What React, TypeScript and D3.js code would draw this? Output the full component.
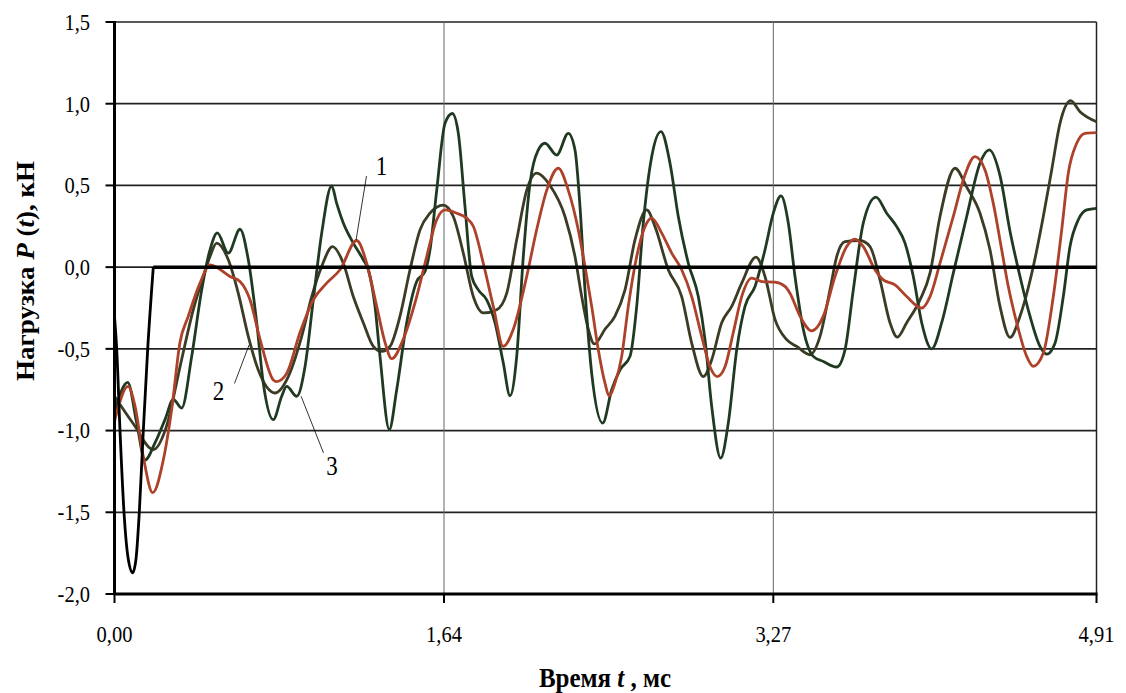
import React from "react";
import * as d3 from "d3";

// chart frame
const W = 1126;
const H = 693;
const plot = { left: 114.5, right: 1096.5, top: 22, bottom: 594 };

// time axis (ms) and load axis (kN)
const xDomain = [0, 4.91];
const yDomain = [-2, 1.5];
const xTickPos = [0, 1.6475, 3.294, 4.91];
const xTickLabels = ["0,00", "1,64", "3,27", "4,91"];
const yTicks = [-2, -1.5, -1, -0.5, 0, 0.5, 1, 1.5];

// applied load pulse (black)
const pulse = [
  [0, -0.3], [0.011, -0.5], [0.0275, -1.0], [0.0475, -1.5], [0.068, -1.78],
  [0.091, -1.87], [0.108, -1.78], [0.124, -1.5], [0.144, -1.0], [0.166, -0.5],
  [0.194, 0],
];
const pulseTail = [[0.194, 0], [4.91, 0]];

// curve 1 (red)
const curve1 = [
  [0, -0.944], [0.0675, -0.73], [0.1025, -0.85], [0.144, -1.16], [0.191, -1.38],
  [0.244, -1.18], [0.286, -0.87], [0.3275, -0.46], [0.369, -0.3], [0.4275, -0.098],
  [0.4775, 0.014], [0.5775, -0.057], [0.6275, -0.088], [0.6775, -0.2], [0.7275, -0.44],
  [0.794, -0.69], [0.811, -0.7], [0.861, -0.65], [0.9275, -0.4], [0.994, -0.2],
  [1.061, -0.098], [1.1275, -0.016], [1.211, 0.163], [1.261, 0.024], [1.311, -0.24],
  [1.3525, -0.46], [1.386, -0.56], [1.444, -0.44], [1.511, -0.18], [1.561, 0.065],
  [1.611, 0.29], [1.6525, 0.35], [1.711, 0.33], [1.761, 0.3], [1.794, 0.25],
  [1.844, 0.024], [1.894, -0.24], [1.944, -0.485], [1.994, -0.38], [2.061, -0.057],
  [2.111, 0.23], [2.161, 0.47], [2.219, 0.605], [2.269, 0.47], [2.319, 0.228],
  [2.3525, 0.004], [2.386, -0.24], [2.419, -0.505], [2.4525, -0.71], [2.4725, -0.787],
  [2.5025, -0.71], [2.536, -0.546], [2.569, -0.24], [2.611, 0.065], [2.6525, 0.248],
  [2.686, 0.3], [2.736, 0.208], [2.786, 0.086], [2.836, -0.016], [2.886, -0.18],
  [2.936, -0.424], [2.9775, -0.61], [3.014, -0.67], [3.0525, -0.61], [3.094, -0.4],
  [3.136, -0.18], [3.186, -0.067], [3.236, -0.088], [3.3025, -0.092], [3.3525, -0.118],
  [3.3775, -0.16], [3.4275, -0.3], [3.486, -0.39], [3.544, -0.3], [3.6025, -0.057],
  [3.661, 0.126], [3.7025, 0.171], [3.744, 0.126], [3.8025, -0.016], [3.844, -0.078],
  [3.9025, -0.108], [3.961, -0.18], [4.036, -0.25], [4.0775, -0.18], [4.1275, 0.024],
  [4.194, 0.31], [4.244, 0.534], [4.3025, 0.676], [4.3525, 0.595], [4.394, 0.39],
  [4.436, 0.106], [4.466, -0.1], [4.511, -0.34], [4.561, -0.546], [4.594, -0.607],
  [4.644, -0.526], [4.694, -0.18], [4.736, 0.228], [4.769, 0.575], [4.811, 0.758],
  [4.8525, 0.819], [4.91, 0.823],
];

// curve 2 (dark olive)
const curve2 = [
  [0, -0.79], [0.095, -0.96], [0.194, -1.117], [0.261, -0.97], [0.3275, -0.61],
  [0.394, -0.26], [0.444, -0.057], [0.4775, 0.065], [0.511, 0.147], [0.569, 0.045],
  [0.619, -0.16], [0.669, -0.424], [0.719, -0.63], [0.8025, -0.77], [0.869, -0.67],
  [0.936, -0.424], [0.986, -0.18], [1.036, 0.004], [1.09, 0.126], [1.144, 0.024],
  [1.194, -0.18], [1.244, -0.34], [1.294, -0.485], [1.336, -0.516], [1.3775, -0.485],
  [1.4275, -0.3], [1.4775, -0.016], [1.5275, 0.228], [1.5775, 0.33], [1.644, 0.38],
  [1.694, 0.31], [1.744, 0.086], [1.794, -0.18], [1.844, -0.28], [1.911, -0.26],
  [1.961, -0.16], [2.011, 0.167], [2.061, 0.47], [2.111, 0.575], [2.1775, 0.5],
  [2.2525, 0.31], [2.3025, 0.065], [2.336, -0.18], [2.369, -0.38], [2.399, -0.47],
  [2.4525, -0.38], [2.5025, -0.3], [2.5525, -0.139], [2.6025, 0.167], [2.661, 0.35],
  [2.7025, 0.248], [2.769, -0.016], [2.836, -0.18], [2.886, -0.465], [2.944, -0.67],
  [2.986, -0.567], [3.036, -0.34], [3.086, -0.24], [3.136, -0.098], [3.2075, 0.061],
  [3.2525, -0.057], [3.3025, -0.32], [3.361, -0.444], [3.411, -0.485], [3.4775, -0.536],
  [3.5275, -0.424], [3.5775, -0.139], [3.611, 0.065], [3.6525, 0.156], [3.7275, 0.163],
  [3.7775, 0.126], [3.8275, -0.078], [3.8775, -0.34], [3.914, -0.428], [3.961, -0.34],
  [4.0275, -0.2], [4.0775, -0.037], [4.1275, 0.31], [4.2025, 0.605], [4.261, 0.49],
  [4.3275, 0.33], [4.3775, 0.106], [4.4275, -0.24], [4.4775, -0.43], [4.5275, -0.3],
  [4.594, 0.004], [4.644, 0.31], [4.686, 0.595], [4.7275, 0.88], [4.781, 1.018],
  [4.8275, 0.951], [4.91, 0.89],
];

// curve 3 (dark green)
const curve3 = [
  [0, -0.89], [0.066, -0.705], [0.111, -0.954], [0.1525, -1.18], [0.2025, -1.076],
  [0.2525, -0.933], [0.294, -0.81], [0.336, -0.862], [0.386, -0.546], [0.436, -0.139],
  [0.4775, 0.106], [0.514, 0.21], [0.569, 0.086], [0.6275, 0.232], [0.669, 0.045],
  [0.711, -0.34], [0.744, -0.71], [0.794, -0.933], [0.836, -0.79], [0.861, -0.73],
  [0.911, -0.79], [0.9525, -0.61], [0.994, -0.2], [1.036, 0.208], [1.086, 0.497],
  [1.111, 0.39], [1.144, 0.27], [1.194, 0.147], [1.244, 0.045], [1.269, -0.016],
  [1.3025, -0.24], [1.3275, -0.546], [1.374, -0.994], [1.411, -0.75], [1.461, -0.34],
  [1.511, -0.088], [1.5525, -0.027], [1.5775, 0.106], [1.611, 0.47], [1.6525, 0.88],
  [1.689, 0.94], [1.719, 0.82], [1.7525, 0.37], [1.786, -0.057], [1.819, -0.139],
  [1.861, -0.2], [1.9025, -0.34], [1.944, -0.587], [1.9775, -0.787], [2.011, -0.546],
  [2.044, 0.065], [2.0775, 0.513], [2.119, 0.717], [2.1525, 0.758], [2.211, 0.686],
  [2.269, 0.819], [2.3025, 0.717], [2.3275, 0.37], [2.3525, -0.139], [2.386, -0.65],
  [2.441, -0.954], [2.486, -0.75], [2.5275, -0.628], [2.5775, -0.546], [2.611, -0.24],
  [2.644, 0.27], [2.686, 0.676], [2.7325, 0.829], [2.7775, 0.636], [2.819, 0.31],
  [2.869, 0.024], [2.919, -0.18], [2.9525, -0.444], [2.986, -0.852], [3.031, -1.168],
  [3.069, -0.954], [3.111, -0.506], [3.1525, -0.24], [3.2025, -0.118], [3.2525, 0.106],
  [3.294, 0.33], [3.3325, 0.436], [3.369, 0.27], [3.4025, -0.057], [3.444, -0.38],
  [3.494, -0.546], [3.544, -0.577], [3.611, -0.611], [3.6525, -0.506], [3.694, -0.139],
  [3.744, 0.27], [3.8075, 0.428], [3.861, 0.33], [3.911, 0.248], [3.9525, 0.147],
  [3.994, -0.057], [4.036, -0.34], [4.086, -0.5], [4.136, -0.34], [4.194, -0.037],
  [4.261, 0.31], [4.3275, 0.636], [4.374, 0.717], [4.4275, 0.56], [4.4775, 0.22],
  [4.5275, -0.057], [4.5775, -0.3], [4.6275, -0.485], [4.661, -0.532], [4.7025, -0.465],
  [4.744, -0.18], [4.7775, 0.126], [4.819, 0.29], [4.861, 0.35], [4.91, 0.36],
];

// curve number labels: [text, label x, label y, leader from x, y, leader to x, y] in data units
const labels = [
  ["1", 1.335, 0.615, 1.26, 0.558, 1.208, 0.167],
  ["2", 0.52, -0.76, 0.6, -0.712, 0.673, -0.476],
  ["3", 1.087, -1.22, 1.045, -1.137, 0.933, -0.79],
];

const font = '"Liberation Serif", "Times New Roman", serif';
const locale = d3.formatLocale({
  decimal: ",",
  thousands: " ",
  grouping: [3],
  currency: ["", ""],
  minus: "-",
});
const fmtY = locale.format(".1f");

// the source picture is slightly stretched vertically
const stretch = 1.16;
const txt = { fontFamily: font, fill: "#000" };

export default function App() {
  const x = d3.scaleLinear().domain(xDomain).range([plot.left, plot.right]);
  const y = d3.scaleLinear().domain(yDomain).range([plot.bottom, plot.top]);

  const line = d3
    .line<number[]>()
    .x((d) => x(d[0]))
    .y((d) => y(d[1]))
    .curve(d3.curveMonotoneX);
  const straight = d3
    .line<number[]>()
    .x((d) => x(d[0]))
    .y((d) => y(d[1]));

  const series = [
    { data: curve2, color: "#3c3b25" },
    { data: curve3, color: "#203a22" },
    { data: curve1, color: "#ad4129" },
  ];

  return (
    <svg
      width={W}
      height={H}
      style={{ position: "absolute", left: 0, top: 0, background: "#fff", fontFamily: font }}
    >
      {/* horizontal grid */}
      {yTicks.map((t) => (
        <line
          key={`gy${t}`}
          x1={plot.left}
          x2={plot.right}
          y1={y(t)}
          y2={y(t)}
          stroke="#222"
          strokeWidth={1.7}
        />
      ))}
      {/* vertical grid */}
      {xTickPos.slice(1, 3).map((t) => (
        <line
          key={`gx${t}`}
          x1={x(t)}
          x2={x(t)}
          y1={plot.top}
          y2={plot.bottom}
          stroke="#666"
          strokeWidth={1}
        />
      ))}
      <line x1={plot.right} x2={plot.right} y1={plot.top} y2={plot.bottom} stroke="#222" strokeWidth={1.5} />

      {/* curves */}
      {series.map((s, i) => (
        <path key={`s${i}`} d={line(s.data) || ""} fill="none" stroke={s.color} strokeWidth={2.8} />
      ))}
      <path d={line(pulse) || ""} fill="none" stroke="#000" strokeWidth={2.8} />
      <path d={straight(pulseTail) || ""} fill="none" stroke="#000" strokeWidth={3.5} />

      {/* curve labels */}
      {labels.map((l) => (
        <g key={`lab${l[0]}`}>
          <line
            x1={x(l[3] as number)}
            y1={y(l[4] as number)}
            x2={x(l[5] as number)}
            y2={y(l[6] as number)}
            stroke="#000"
            strokeWidth={0.8}
          />
          <text
            transform={`translate(${x(l[1] as number)},${y(l[2] as number) + 8.5}) scale(1,${stretch})`}
            fontSize={23}
            textAnchor="middle"
            style={txt}
          >
            {l[0]}
          </text>
        </g>
      ))}

      {/* axes */}
      <line x1={plot.left} x2={plot.left} y1={plot.top - 1} y2={plot.bottom + 1} stroke="#000" strokeWidth={3} />
      <line x1={plot.left - 1} x2={plot.right + 1} y1={plot.bottom} y2={plot.bottom} stroke="#000" strokeWidth={3} />
      {yTicks.map((t) => (
        <g key={`yt${t}`}>
          <line x1={plot.left - 9} x2={plot.left} y1={y(t)} y2={y(t)} stroke="#000" strokeWidth={2} />
          <text
            transform={`translate(90,${y(t) + 7.8}) scale(1,${stretch})`}
            fontSize={20.5}
            textAnchor="end"
            style={txt}
          >
            {fmtY(t)}
          </text>
        </g>
      ))}
      {xTickPos.map((t, i) => (
        <g key={`xt${t}`}>
          <line x1={x(t)} x2={x(t)} y1={plot.bottom} y2={plot.bottom + 9} stroke="#000" strokeWidth={2} />
          <text
            transform={`translate(${x(t)},642) scale(1,${stretch})`}
            fontSize={20.5}
            textAnchor="middle"
            style={txt}
          >
            {xTickLabels[i]}
          </text>
        </g>
      ))}

      {/* axis titles */}
      <text
        transform={`translate(605,687) scale(1,1.1)`}
        fontSize={25}
        fontWeight="bold"
        textAnchor="middle"
        style={txt}
      >
        Время <tspan fontStyle="italic">t</tspan> , мс
      </text>
      <text
        transform="translate(34,271) rotate(-90) scale(1,0.95)"
        fontSize={27}
        fontWeight="bold"
        textAnchor="middle"
        style={txt}
      >
        Нагрузка <tspan fontStyle="italic">P</tspan> (<tspan fontStyle="italic">t</tspan>), кН
      </text>
    </svg>
  );
}
